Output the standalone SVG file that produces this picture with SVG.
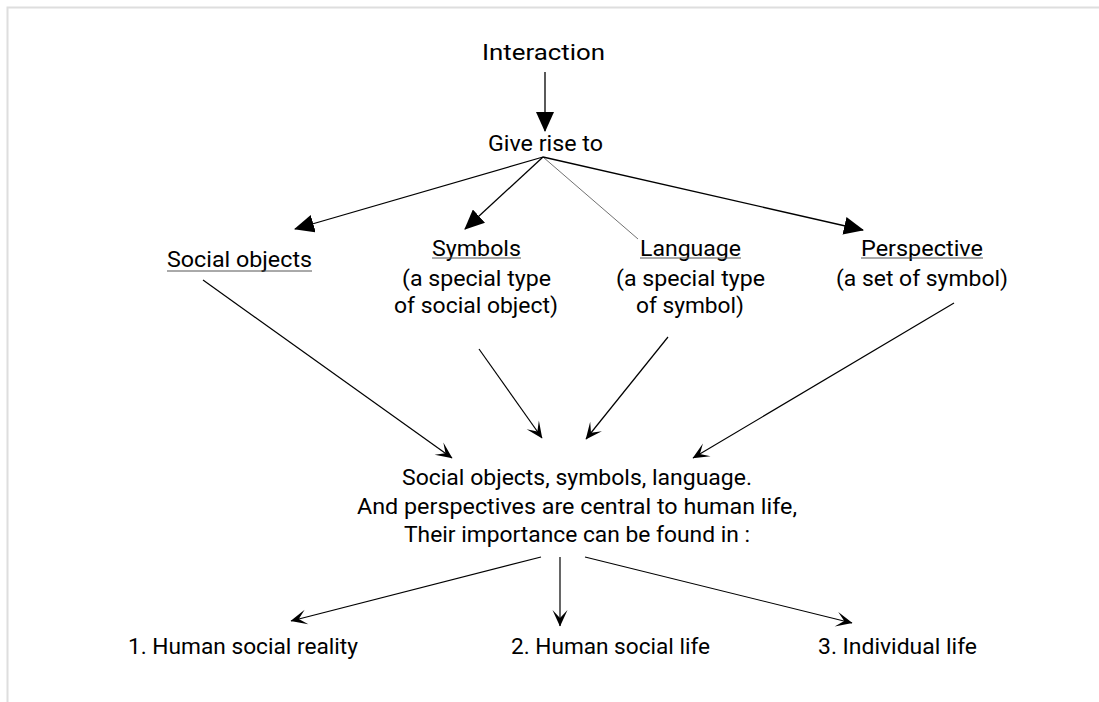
<svg xmlns="http://www.w3.org/2000/svg" width="1099" height="702" viewBox="0 0 1099 702">
  <defs>
    <style>
      .t { font-family: Roboto, "Liberation Sans", sans-serif; font-size: 22px; font-weight: 400; fill: #000; }
      .m { text-anchor: middle; }
      .ul { stroke: #555; stroke-width: 1; }
      .a1 { stroke: #000; stroke-width: 1.3; fill: none; }
      .a2 { stroke: #000; stroke-width: 1.2; fill: none; }
    </style>
    <marker id="tri" viewBox="0 0 20 18" refX="19" refY="9" markerWidth="20" markerHeight="18" markerUnits="userSpaceOnUse" orient="auto">
      <path d="M0,0 L20,9 L0,18 Z" fill="#000"/>
    </marker>
    <marker id="open" viewBox="-18 -9 19 18" refX="0" refY="0" markerWidth="19" markerHeight="18" markerUnits="userSpaceOnUse" orient="auto">
      <path d="M0.5,0 L-16,-7.5 L-8,0 L-16,7.5 Z" fill="#000"/>
    </marker>
  </defs>
  <rect width="1099" height="702" fill="#fff"/>
  <path d="M7.5,702 V7.5 H1099" fill="none" stroke="#dedede" stroke-width="2"/>

  <g id="connectors">
    <line class="a1" x1="545" y1="72" x2="545" y2="131" marker-end="url(#tri)"/>
    <line class="a1" x1="543" y1="157" x2="295" y2="229" marker-end="url(#tri)"/>
    <line class="a1" x1="543" y1="157" x2="465" y2="229" marker-end="url(#tri)"/>
    <line x1="543" y1="157" x2="638" y2="239" stroke="#333" stroke-width="0.7"/>
    <line class="a1" x1="543" y1="157" x2="863" y2="230" marker-end="url(#tri)"/>
    <line class="a2" x1="203" y1="280" x2="452" y2="458" marker-end="url(#open)"/>
    <line class="a2" x1="479" y1="349" x2="542" y2="438" marker-end="url(#open)"/>
    <line class="a2" x1="668" y1="337" x2="586" y2="439" marker-end="url(#open)"/>
    <line class="a2" x1="954" y1="303" x2="693" y2="458" marker-end="url(#open)"/>
    <line class="a2" x1="541" y1="557" x2="291" y2="621" marker-end="url(#open)"/>
    <line class="a2" x1="560" y1="557" x2="560" y2="626" marker-end="url(#open)"/>
    <line class="a2" x1="585" y1="557" x2="852" y2="623" marker-end="url(#open)"/>
  </g>

  <g id="interaction">
    <text class="t m" x="543.5" y="60" textLength="123" lengthAdjust="spacingAndGlyphs">Interaction</text>
  </g>
  <g id="give-rise-to">
    <text class="t m" x="545.5" y="151" textLength="115" lengthAdjust="spacingAndGlyphs">Give rise to</text>
  </g>
  <g id="social-objects">
    <text class="t m" x="239.5" y="267" textLength="145" lengthAdjust="spacingAndGlyphs">Social objects</text>
    <line class="ul" x1="167" y1="271" x2="312" y2="271" stroke="#888"/>
  </g>
  <g id="symbols">
    <text class="t m" x="476.5" y="256" textLength="89" lengthAdjust="spacingAndGlyphs">Symbols</text>
    <line class="ul" x1="432" y1="258" x2="521" y2="258"/>
    <text class="t m" x="476.5" y="286" textLength="149" lengthAdjust="spacingAndGlyphs">(a special type</text>
    <text class="t m" x="476" y="313" textLength="164" lengthAdjust="spacingAndGlyphs">of social object)</text>
  </g>
  <g id="language">
    <text class="t m" x="690.5" y="256" textLength="101" lengthAdjust="spacingAndGlyphs">Language</text>
    <line class="ul" x1="640" y1="258" x2="741" y2="258"/>
    <text class="t m" x="690.5" y="286" textLength="149" lengthAdjust="spacingAndGlyphs">(a special type</text>
    <text class="t m" x="690" y="313" textLength="108" lengthAdjust="spacingAndGlyphs">of symbol)</text>
  </g>
  <g id="perspective">
    <text class="t m" x="922" y="256" textLength="122" lengthAdjust="spacingAndGlyphs">Perspective</text>
    <line class="ul" x1="861" y1="258" x2="983" y2="258"/>
    <text class="t m" x="922" y="286" textLength="172" lengthAdjust="spacingAndGlyphs">(a set of symbol)</text>
  </g>
  <g id="central">
    <text class="t m" x="577" y="485" textLength="350" lengthAdjust="spacingAndGlyphs">Social objects, symbols, language.</text>
    <text class="t m" x="577" y="513.5" textLength="440" lengthAdjust="spacingAndGlyphs">And perspectives are central to human life,</text>
    <text class="t m" x="577" y="542" textLength="346" lengthAdjust="spacingAndGlyphs">Their importance can be found in :</text>
  </g>
  <g id="human-social-reality">
    <text class="t m" x="243" y="654" textLength="230" lengthAdjust="spacingAndGlyphs">1. Human social reality</text>
  </g>
  <g id="human-social-life">
    <text class="t m" x="610.5" y="654" textLength="199" lengthAdjust="spacingAndGlyphs">2. Human social life</text>
  </g>
  <g id="individual-life">
    <text class="t m" x="897.5" y="654" textLength="159" lengthAdjust="spacingAndGlyphs">3. Individual life</text>
  </g>
</svg>
